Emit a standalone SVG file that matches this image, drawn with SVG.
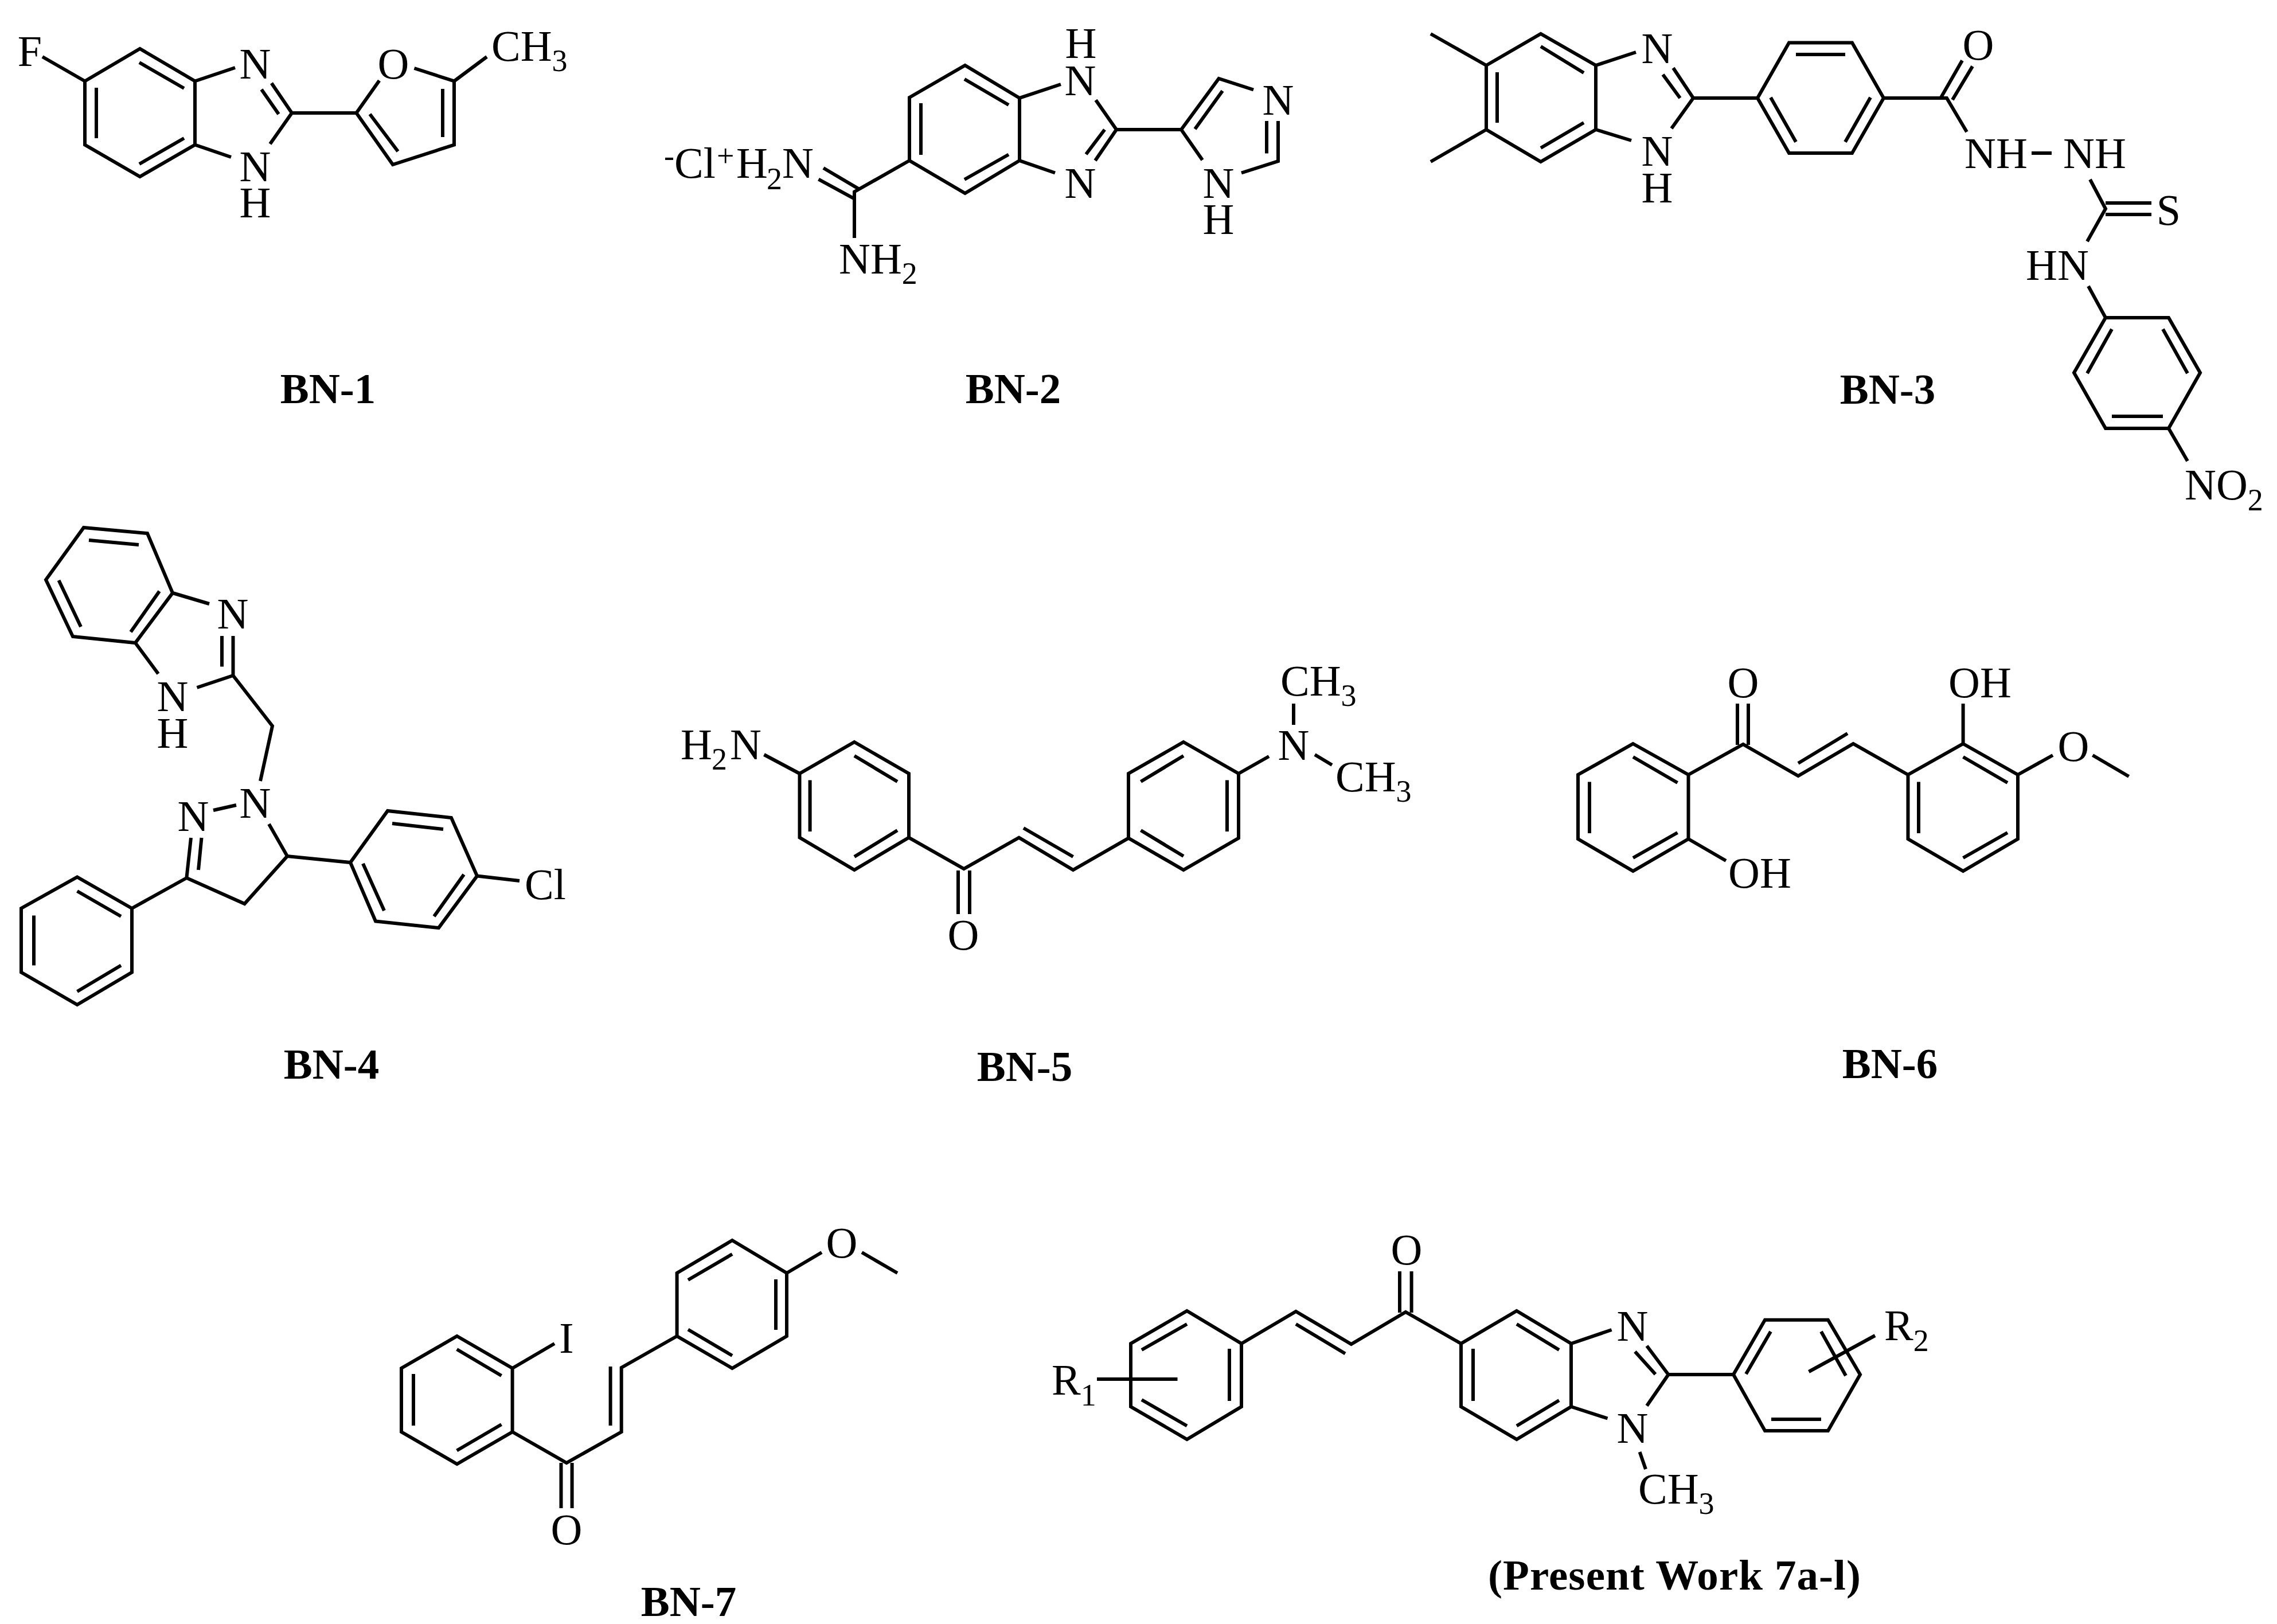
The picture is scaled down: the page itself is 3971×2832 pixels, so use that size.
<svg xmlns="http://www.w3.org/2000/svg" width="3971" height="2832" viewBox="0 0 3971 2832">
<style>
.b{fill:none;stroke:#000;stroke-width:6;stroke-linejoin:miter;stroke-linecap:butt}
text{font-family:"Liberation Serif","Times New Roman",serif;fill:#000;font-size:76px}
.m{text-anchor:middle}
.l{font-weight:bold;font-size:75px;text-anchor:middle}
.s{font-size:54px}
</style>
<rect width="3971" height="2832" fill="#fff"/>
<g id="BN-1">
<path class="b" d="M148 141.500L244 85L340 141.500L340 252.500L244 308L148 252.500ZM74 99L148 141.500M243 109L321 154M168 153L168 241M243 286L321 241M340 141.500L410 118M473.500 145L509 197L471 251M456 156L486 199M340 252.500L403 274M509 197L621.500 197L685 287L792 252.500L792 141.500L722.500 119M621.500 197L661.500 140.500M645 199L694 264M772 155L772 239M792 141.500L849 99"/>
<text x="52" y="115" class="m">F</text>
<text x="445" y="137" class="m">N</text>
<text class="m"><tspan x="445" y="316">N</tspan><tspan x="445" y="379">H</tspan></text>
<text x="686" y="137" class="m">O</text>
<text x="857" y="106">CH<tspan class="s" dy="18">3</tspan></text>
<text x="572" y="703" class="l">BN-1</text>
</g>
<g id="BN-2">
<path class="b" d="M1586 170L1683 114L1778 171L1778 280L1683 337L1586 280ZM1682 138L1759 183M1606 180L1606 270M1682 313L1759 269.500M1778 171L1850 147M1911 174.500L1947 226L1910 280M1926.500 226L1894 269M1778 280L1840 301.500M1947 226L2060 226L2125.500 137L2186 156.500M2229 211L2229 281L2165 301.500M2209 211L2209 267.500M2060 226L2097 279M2132 158.500L2084 225M1586 280L1490 334.500L1490 415M1436 293L1498 329.600M1427.500 312.600L1490 346.600"/>
<text class="m"><tspan x="1885" y="101">H</tspan><tspan x="1884" y="166">N</tspan></text>
<text x="1884" y="345" class="m">N</text>
<text x="2229" y="200" class="m">N</text>
<text class="m"><tspan x="2125" y="345">N</tspan><tspan x="2125" y="408">H</tspan></text>
<text y="310"><tspan class="s" x="1158" dy="-20">-</tspan><tspan x="1176" dy="20">Cl</tspan><tspan class="s" x="1250" dy="-20">+</tspan><tspan x="1284" dy="20">H</tspan><tspan class="s" x="1337" dy="20">2</tspan><tspan x="1364" dy="-20">N</tspan></text>
<text x="1463" y="477">NH<tspan class="s" dy="18">2</tspan></text>
<text x="1767" y="703" class="l">BN-2</text>
</g>
<g id="BN-3">
<path class="b" d="M2592 114L2687 59L2783 114L2783 226L2687 282L2592 226ZM2592 114L2495 59M2592 226L2495 282M2687 81L2762 127M2611 126L2611 214M2687 258L2762 214M2783 114L2853 91M2783 226L2845 245M2918 118.500L2953 171L2915 224M2900 130L2930 171M2953 171L3065 171M3065 171L3120 74.500L3230 74.500L3285 171L3230 267L3120 267ZM3132 95L3218 95M3262 170L3218 247.600M3088 170L3132 247.600M3285 171L3395 171L3430 230M3422 105.600L3385 170M3440 115.600L3405 174M3543 267L3578 267M3645 313L3672 364L3640 421M3672 354L3752 354M3672 374L3752 374M3642 499L3672 554L3782 554L3837 650L3782 747L3672 747L3617 650L3672 554M3772 574L3815 651M3640 651L3683 574M3683 726L3772 726M3782 747L3815 804"/>
<text x="2890" y="110" class="m">N</text>
<text class="m"><tspan x="2890" y="289">N</tspan><tspan x="2890" y="353">H</tspan></text>
<text x="3450" y="104" class="m">O</text>
<text x="3426" y="293">NH</text>
<text x="3598" y="293">NH</text>
<text x="3782" y="392" class="m">S</text>
<text x="3533" y="488">HN</text>
<text x="3810" y="871">NO<tspan class="s" dy="19">2</tspan></text>
<text x="3292" y="704" class="l">BN-3</text>
</g>
<g id="BN-4">
<path class="b" d="M146 920L257 930L301 1034L236 1121L127 1110L80 1011ZM155 942L242 950M102.500 1012L141 1093M278 1031L228 1102M301 1034L365 1053M406.500 1109L406.500 1178M387 1109L387 1162.600M406.500 1178L343.500 1199M236 1121L276 1175M406.500 1178L475 1266L454 1362M372 1413L412 1404M469 1437L501 1493L426.500 1576L325.400 1531L333 1461M346 1517L351.500 1461M325.400 1531L230 1584M230 1584L134.600 1529.500L37 1584L37 1695.600L134.600 1752L230 1695.600ZM134.600 1554L211 1598M59 1596.500L59 1683.500M134.600 1729L211 1683.500M501 1493L611 1504L676 1414L787 1426L832 1527.500L765 1618L655 1606.500L611 1504M684 1436L773 1446M633 1506L670 1588M809 1525L757 1598M832 1527.500L906 1536"/>
<text x="406" y="1096" class="m">N</text>
<text class="m"><tspan x="301" y="1240">N</tspan><tspan x="301" y="1304">H</tspan></text>
<text x="445" y="1426" class="m">N</text>
<text x="337" y="1449" class="m">N</text>
<text x="915" y="1568">Cl</text>
<text x="578" y="1881" class="l">BN-4</text>
</g>
<g id="BN-5">
<path class="b" d="M1490 1294L1585 1349L1585 1460.600L1490 1517L1394.500 1460.600L1394.500 1349ZM1490 1318L1565 1363M1412.600 1360.600L1412.600 1450M1490 1494L1565 1448M1332.500 1316L1394.500 1349M1585 1460.600L1681 1515L1777 1460.600L1871.500 1517L1968 1461.600M1785 1444L1871.500 1494M1671 1518L1671 1594M1691 1518L1691 1594M2064 1294L2160 1349L2160 1461.600L2064 1517L1968 1461.600L1968 1349ZM1989.500 1363L2064 1318M2140 1360.600L2140 1450M1989.500 1448L2064 1493M2160 1349L2213 1319M2256 1264L2256 1227M2293 1316L2323 1334"/>
<text x="1187" y="1324">H<tspan class="s" x="1241" dy="18">2</tspan><tspan x="1273" dy="-18">N</tspan></text>
<text x="1680" y="1656" class="m">O</text>
<text x="2256" y="1325" class="m">N</text>
<text x="2233" y="1213">CH<tspan class="s" dy="18">3</tspan></text>
<text x="2329" y="1380">CH<tspan class="s" dy="18">3</tspan></text>
<text x="1787" y="1885" class="l">BN-5</text>
</g>
<g id="BN-6">
<path class="b" d="M2848 1297L2944.500 1351L2944.500 1463L2848 1519L2752 1463L2752 1351ZM2848 1320L2925.500 1365M2772 1363.600L2772 1453M2848 1496L2925.500 1452M2944.500 1463L3010 1501M2944.500 1351L3040 1298L3136 1353L3232 1297L3327.500 1351M3136 1331L3222 1279M3030 1299L3030 1227M3049 1299L3049 1227M3423.600 1297L3519 1351L3519 1463L3423.600 1519L3327.500 1463L3327.500 1351ZM3423.600 1320L3501 1365M3346 1363.600L3346 1453M3423.600 1496L3501 1452M3423.600 1297L3423.600 1227M3519 1351L3580 1317M3649.500 1317L3712.600 1354"/>
<text x="3014" y="1548">OH</text>
<text x="3040" y="1216" class="m">O</text>
<text x="3398" y="1216">OH</text>
<text x="3616" y="1327" class="m">O</text>
<text x="3296" y="1880" class="l">BN-6</text>
</g>
<g id="BN-7">
<path class="b" d="M797 2330L893.600 2386L893.600 2497L797 2553L700 2497L700 2386ZM796.700 2353L874.500 2399M721 2396L721 2486M796.700 2529.500L874.500 2484M893.600 2386L967 2343M893.600 2497L988 2551L1083.700 2497L1083.700 2385L1180.600 2330M1064.600 2383L1064.600 2486M978.500 2551L978.500 2630M997.600 2551L997.600 2630M1277 2163L1372 2220L1372 2330L1277 2386L1180.600 2330L1180.600 2220ZM1200 2232L1277 2187M1353 2231L1353 2319M1200 2318.500L1277 2364M1372 2220L1433 2184M1503 2184L1565 2220"/>
<text x="988" y="2359" class="m">I</text>
<text x="988" y="2693" class="m">O</text>
<text x="1468" y="2193" class="m">O</text>
<text x="1201" y="2818" class="l">BN-7</text>
</g>
<g id="Present-Work">
<path class="b" d="M2070 2286L2165 2343L2165 2453L2070 2510L1972 2453L1972 2343ZM1991 2354L2070 2309M2144 2352L2144 2443M1991 2441L2070 2486.500M1913 2405L2053.500 2405M2165 2343L2260 2287L2356.500 2344L2451.400 2288L2548 2343M2260 2309L2346 2360.500M2441 2289L2441 2217M2461.600 2289L2461.600 2217M2645 2286L2740 2343L2740 2453L2645 2510L2548 2453L2548 2343ZM2645 2309L2719 2354M2569 2352L2569 2443M2645 2486.500L2719 2442M2740 2343L2810.600 2319M2740 2453L2803.500 2473.500M2872 2347L2909.600 2397L2872 2451.500M2851.400 2357L2887 2396.400M2909.600 2397L3023 2397L3078 2301.700L3188 2301.700L3244 2397L3188 2495L3078 2495L3023 2397M3088 2322L3045 2396M3176 2322L3219 2399M3089 2475L3176 2475M3270 2329L3154.500 2392M2859.600 2532L2870 2562"/>
<text x="1834" y="2432">R<tspan class="s" dy="19">1</tspan></text>
<text x="2453" y="2205" class="m">O</text>
<text x="2847" y="2338" class="m">N</text>
<text x="2847" y="2516" class="m">N</text>
<text x="3286" y="2337">R<tspan class="s" dy="19">2</tspan></text>
<text x="2857" y="2622">CH<tspan class="s" dy="18">3</tspan></text>
<text x="2920" y="2772" class="l" textLength="650">(Present Work 7a-l)</text>
</g>
</svg>
